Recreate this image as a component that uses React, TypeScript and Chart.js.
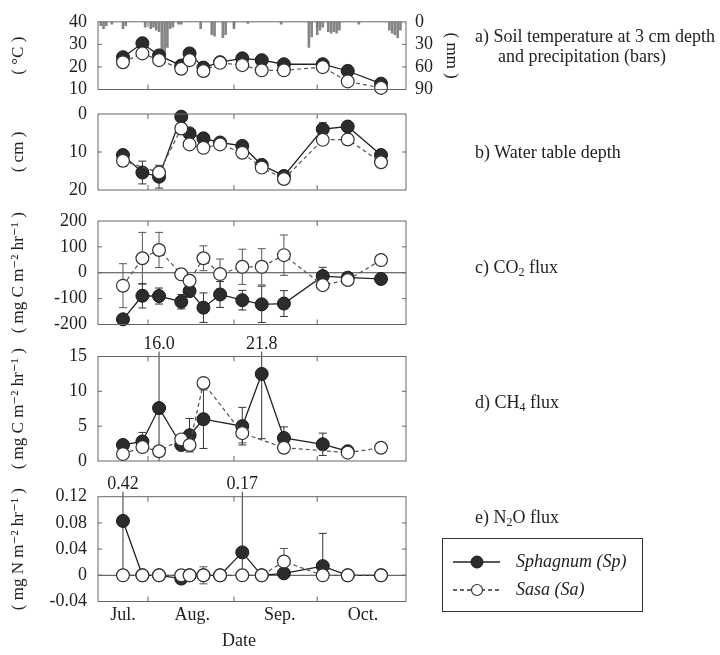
import React, { useEffect, useRef } from 'react';
import { Chart, registerables } from 'chart.js';

Chart.register(...registerables);

const W = 720;
const H = 655;
const PLOT_LEFT = 98;
const PLOT_RIGHT = 406;
const X_MIN = 13;
const X_MAX = 124;
const FONT = "'Liberation Serif', 'DejaVu Serif', serif";
const TICK_SIZE = 18;

Chart.defaults.font.family = FONT;
Chart.defaults.color = '#222';

// days counted from 1 July (1 Aug = 31, 1 Sep = 62, 1 Oct = 92)
const monthStartDays = [31, 62, 92];
const monthLabelDays = [22, 47, 78.5, 108.5];
const monthLabels = ['Jul.', 'Aug.', 'Sep.', 'Oct.'];

const sampleDays = [22, 29, 35, 43, 46, 51, 57, 65, 72, 80, 94, 103, 115];
const ch4Days = [22, 29, 35, 43, 46, 51, 65, 72, 80, 94, 103, 115];

// a) soil temperature (°C) and precipitation (mm)
const precipDays = [14, 15, 16, 18, 22, 23, 30, 32, 33, 34, 35, 36, 37, 38, 39, 40, 42, 43, 50, 54, 55, 58, 59, 62, 67, 79, 89, 90, 92, 93, 94, 96, 97, 98, 99, 100, 107, 118, 119, 120, 121, 122];
const precipMm = [5, 9, 5, 3, 9, 5, 7, 9, 7, 11, 13, 44, 42, 34, 9, 7, 3, 3, 9, 17, 19, 21, 17, 9, 2, 3, 34, 20, 17, 11, 7, 13, 15, 13, 15, 11, 3, 11, 15, 17, 21, 11];
const tempSp = [24.3, 30.5, 25.1, 20.6, 26.0, 19.7, 22.1, 23.8, 23.0, 21.2, 21.2, 18.2, 12.6];
const tempSa = [22.1, 26.0, 23.0, 19.2, 23.0, 18.2, 21.8, 20.8, 18.5, 18.5, 19.9, 13.6, 10.7];
const tempSpErr = [0, 0, 0, 0, 0, 0, 0, 0, 0, 0, 0, 2.5, 0];

// b) water table depth (cm)
const wtdSp = [10.8, 15.4, 16.5, 0.7, 5.1, 6.4, 7.5, 8.4, 13.4, 16.3, 4.0, 3.3, 10.8];
const wtdSa = [12.3, null, 15.4, 3.8, 8.0, 8.9, 8.0, 10.2, 14.1, 17.1, 6.8, 6.7, 12.7];
const wtdSpErr = [0.6, 3, 3, 0, 0, 0, 0, 0, 0, 0, 1.7, 0, 0];
const wtdSaErr = [1.5, 0, 0, 0, 0, 0, 0, 0, 0, 0, 0, 0, 0];

// c) CO2 flux
const co2Sp = [-180, -89, -90, -112, -71, -135, -84, -106, -122, -119, -13, -19, -24];
const co2Sa = [-50, 56, 88, -6, -31, 56, -5, 23, 23, 68, -48, -28, 49];
const co2SpErr = [0, 47, 31, 28, 0, 57, 50, 38, 70, 50, 34, 0, 0];
const co2SaErr = [85, 100, 68, 0, 0, 48, 58, 68, 70, 78, 0, 0, 0];

// d) CH4 flux
const ch4Sp = [2.3, 2.8, 7.6, 2.3, 3.7, 6.0, 5.0, 12.5, 3.3, 2.4, 1.4, null];
const ch4Sa = [1.0, 2.0, 1.4, 3.1, 2.3, 11.2, 4.0, null, 1.9, null, 1.2, 1.9];
const ch4SpErr = [0.6, 1.3, 8.4, 0.5, 2.4, 4.2, 2.7, 9.3, 1.6, 1.6, 0, 0];
const ch4SaErr = [0, 0, 0, 0, 0, 0, 1.4, 0, 0, 0, 0, 0];

// e) N2O flux
const n2oSp = [0.083, 0, 0, -0.005, 0, 0, 0, 0.035, 0, 0.003, 0.014, 0, 0];
const n2oSa = [0, 0, 0, 0, 0, 0, 0, 0, 0, 0.021, 0, 0, 0];
const n2oSpErrUp = [0.337, 0, 0, 0, 0, 0, 0, 0.135, 0, 0, 0.05, 0, 0];
const n2oSpErrDown = [0.083, 0, 0, 0, 0, 0, 0, 0.035, 0, 0, 0.014, 0, 0];
const n2oSaErr = [0, 0, 0, 0, 0, 0.013, 0, 0, 0, 0.02, 0, 0, 0];

const toXY = (days: number[], vals: (number | null)[]) => days.map((d, i) => ({ x: d, y: vals[i] }));

function pairDatasets(days: number[], sp: (number | null)[], sa: (number | null)[], spUp: number[], saUp: number[], spDown?: number[]) {
  return [
    {
      type: 'line', label: 'Sasa (Sa)', data: toXY(days, sa), order: 0,
      errUp: saUp, errDown: saUp, errColor: '#555',
      borderColor: '#555', borderDash: [4, 3], borderWidth: 1.2,
      pointRadius: 6.4, pointBackgroundColor: '#fff', pointBorderColor: '#333', pointBorderWidth: 1.2,
      spanGaps: true, tension: 0, clip: false,
    },
    {
      type: 'line', label: 'Sphagnum (Sp)', data: toXY(days, sp), order: 1,
      errUp: spUp, errDown: spDown || spUp, errColor: '#333',
      borderColor: '#222', borderWidth: 1.3,
      pointRadius: 6.5, pointBackgroundColor: '#2c2c2c', pointBorderColor: '#1a1a1a', pointBorderWidth: 1,
      spanGaps: true, tension: 0, clip: false,
    },
  ];
}

const panelPlugin = {
  id: 'panel',
  beforeDatasetsDraw(chart: any, _args: any, opts: any) {
    const { ctx, chartArea: a, scales } = chart;
    ctx.save();
    if (opts.zero) {
      const y0 = scales.y.getPixelForValue(0);
      ctx.strokeStyle = '#444';
      ctx.lineWidth = 1;
      ctx.beginPath();
      ctx.moveTo(a.left, y0);
      ctx.lineTo(a.right, y0);
      ctx.stroke();
    }
    chart.data.datasets.forEach((ds: any) => {
      const up = ds.errUp;
      if (!up) return;
      const dn = ds.errDown || up;
      const ys = scales[ds.yAxisID || 'y'];
      ctx.strokeStyle = ds.errColor || '#333';
      ctx.lineWidth = 1;
      ctx.setLineDash([]);
      ds.data.forEach((p: any, i: number) => {
        const u = up[i] || 0;
        const d = dn[i] || 0;
        if (p.y == null || (u <= 0 && d <= 0)) return;
        const x = scales.x.getPixelForValue(p.x);
        const hiVal = p.y + u;
        const loVal = p.y - d;
        const over = hiVal > ys.max;
        const pHi = ys.getPixelForValue(Math.min(hiVal, ys.max));
        const pLo = ys.getPixelForValue(Math.max(loVal, ys.min));
        const y1 = over ? a.top - 5 : pHi;
        ctx.beginPath();
        ctx.moveTo(x, y1);
        ctx.lineTo(x, pLo);
        ctx.stroke();
        if (!over && u > 0) {
          ctx.beginPath(); ctx.moveTo(x - 4, pHi); ctx.lineTo(x + 4, pHi); ctx.stroke();
        }
        if (d > 0 && loVal >= ys.min) {
          ctx.beginPath(); ctx.moveTo(x - 4, pLo); ctx.lineTo(x + 4, pLo); ctx.stroke();
        }
        if (over) {
          ctx.fillStyle = '#222';
          ctx.font = `${TICK_SIZE}px ${FONT}`;
          ctx.textAlign = 'center';
          ctx.textBaseline = 'middle';
          ctx.fillText(hiVal.toFixed(opts.digits ?? 1), x, a.top - 12);
        }
      });
    });
    ctx.restore();
  },
  afterDatasetsDraw(chart: any) {
    const { ctx, chartArea: a, scales } = chart;
    ctx.save();
    ctx.strokeStyle = '#666';
    ctx.lineWidth = 1;
    ctx.setLineDash([]);
    ctx.strokeRect(a.left, a.top, a.right - a.left, a.bottom - a.top);
    const inner = (s: any) => s.ticks.map((t: any) => t.value).filter((v: number) => v > s.min + 1e-9 && v < s.max - 1e-9);
    const y = scales.y;
    const y2 = scales.y2;
    ctx.beginPath();
    inner(y).forEach((v: number) => {
      const py = y.getPixelForValue(v);
      ctx.moveTo(a.left, py); ctx.lineTo(a.left + 4, py);
      if (!y2) { ctx.moveTo(a.right, py); ctx.lineTo(a.right - 4, py); }
    });
    if (y2) {
      inner(y2).forEach((v: number) => {
        const py = y2.getPixelForValue(v);
        ctx.moveTo(a.right, py); ctx.lineTo(a.right - 4, py);
      });
    }
    monthStartDays.forEach((d) => {
      const px = scales.x.getPixelForValue(d);
      ctx.moveTo(px, a.bottom); ctx.lineTo(px, a.bottom - 5);
      ctx.moveTo(px, a.top); ctx.lineTo(px, a.top + 5);
    });
    ctx.stroke();
    ctx.restore();
  },
};

function xScale(show: boolean) {
  return {
    type: 'linear', min: X_MIN, max: X_MAX, offset: false, display: show,
    grid: { display: false, drawTicks: false }, border: { display: false },
    afterBuildTicks: (s: any) => { s.ticks = monthLabelDays.map((v) => ({ value: v })); },
    ticks: {
      autoSkip: false, maxRotation: 0, minRotation: 0, padding: 3,
      font: { size: TICK_SIZE, family: FONT }, color: '#222',
      callback: (v: any) => { const i = monthLabelDays.indexOf(Number(v)); return i >= 0 ? monthLabels[i] : ''; },
    },
    title: { display: false },
    afterFit: (s: any) => { if (show) s.height = 53.5; },
  };
}

function yScale(min: number, max: number, step: number, title: string, reverse = false, fmt?: (v: number) => string) {
  return {
    type: 'linear', position: 'left', min, max, reverse,
    grid: { display: false, drawTicks: false }, border: { display: false },
    ticks: {
      stepSize: step, padding: 11, autoSkip: false, font: { size: TICK_SIZE, family: FONT }, color: '#222',
      callback: (v: any) => (fmt ? fmt(Number(v)) : String(Math.round(Number(v)))),
    },
    title: { display: true, text: title, font: { size: 17, family: FONT }, color: '#222', padding: { top: 8, bottom: 0 } },
    afterFit: (s: any) => { s.width = PLOT_LEFT; },
  };
}

function buildConfig(top: number, bottom: number, datasets: any[], scales: any, rightPad: number, pluginOpts: any) {
  return {
    type: 'line',
    data: { datasets },
    options: {
      responsive: false,
      maintainAspectRatio: false,
      animation: false,
      events: [],
      layout: { padding: { left: 0, right: rightPad, top, bottom } },
      plugins: { legend: { display: false }, tooltip: { enabled: false }, panel: pluginOpts },
      scales,
    },
    plugins: [panelPlugin],
  } as any;
}

const panelConfigs = [
  () => buildConfig(12.5, H - 89.5, [
    ...pairDatasets(sampleDays, tempSp, tempSa, tempSpErr, sampleDays.map(() => 0)),
    {
      type: 'bar', label: 'Precipitation', data: toXY(precipDays, precipMm), yAxisID: 'y2', order: 2,
      backgroundColor: '#858585', barThickness: 2,
    },
  ], {
    x: xScale(false),
    y: yScale(10, 40, 10, '( °C )'),
    y2: {
      type: 'linear', position: 'right', min: 0, max: 90, reverse: true,
      grid: { display: false, drawTicks: false }, border: { display: false },
      ticks: { stepSize: 30, padding: 9, autoSkip: false, font: { size: TICK_SIZE, family: FONT }, color: '#222' },
      title: { display: true, text: '( mm )', font: { size: 17, family: FONT }, color: '#222', padding: { top: 4, bottom: 0 } },
      afterFit: (s: any) => { s.width = 60; },
    },
  }, W - PLOT_RIGHT - 60, {}),
  () => buildConfig(114, H - 190, pairDatasets(sampleDays, wtdSp, wtdSa, wtdSpErr, wtdSaErr), {
    x: xScale(false),
    y: yScale(0, 20, 10, '( cm )', true),
  }, W - PLOT_RIGHT, {}),
  () => buildConfig(221, H - 324.5, pairDatasets(sampleDays, co2Sp, co2Sa, co2SpErr, co2SaErr), {
    x: xScale(false),
    y: yScale(-200, 200, 100, '( mg C m⁻² hr⁻¹ )'),
  }, W - PLOT_RIGHT, { zero: true }),
  () => buildConfig(356.5, H - 461, pairDatasets(ch4Days, ch4Sp, ch4Sa, ch4SpErr, ch4SaErr), {
    x: xScale(false),
    y: yScale(0, 15, 5, '( mg C m⁻² hr⁻¹ )'),
  }, W - PLOT_RIGHT, { digits: 1 }),
  () => buildConfig(496.7, 0, pairDatasets(sampleDays, n2oSp, n2oSa, n2oSpErrUp, n2oSaErr, n2oSpErrDown), {
    x: xScale(true),
    y: yScale(-0.04, 0.12, 0.04, '( mg N m⁻² hr⁻¹ )', false, (v) => {
      const r = Math.round(v * 100) / 100;
      return r === 0 ? '0' : String(r);
    }),
  }, W - PLOT_RIGHT, { zero: true, digits: 2 }),
];

function Panel({ make }: { make: () => any }) {
  const ref = useRef<HTMLCanvasElement>(null);
  useEffect(() => {
    const chart = new Chart(ref.current as HTMLCanvasElement, make());
    return () => chart.destroy();
  }, []);
  return <canvas ref={ref} width={W} height={H} style={{ position: 'absolute', left: 0, top: 0, width: W, height: H }} />;
}

const textStyle: React.CSSProperties = {
  position: 'absolute', fontFamily: FONT, fontSize: 18, lineHeight: '20px', color: '#222', whiteSpace: 'nowrap',
};
const subStyle: React.CSSProperties = { fontSize: 12, verticalAlign: '-3px', lineHeight: 0 };

export default function App() {
  return (
    <div style={{ position: 'absolute', left: 0, top: 0, width: W, height: H, overflow: 'hidden', background: '#fff' }}>
      {panelConfigs.map((make, i) => <Panel key={i} make={make} />)}
      <div style={{ ...textStyle, left: 475, top: 26 }}>a) Soil temperature at 3 cm depth</div>
      <div style={{ ...textStyle, left: 498, top: 46 }}>and precipitation (bars)</div>
      <div style={{ ...textStyle, left: 475, top: 142 }}>b) Water table depth</div>
      <div style={{ ...textStyle, left: 475, top: 257 }}>c) CO<span style={subStyle}>2</span> flux</div>
      <div style={{ ...textStyle, left: 475, top: 392 }}>d) CH<span style={subStyle}>4</span> flux</div>
      <div style={{ ...textStyle, left: 475, top: 507 }}>e) N<span style={subStyle}>2</span>O flux</div>
      <div style={{ ...textStyle, left: 222, top: 630 }}>Date</div>
      <div style={{ position: 'absolute', left: 442, top: 538, width: 201, height: 74, border: '1.5px solid #333', boxSizing: 'border-box' }}>
        <svg width={198} height={71} style={{ position: 'absolute', left: 0, top: 0 }}>
          <line x1={10} y1={23} x2={57} y2={23} stroke="#222" strokeWidth={1.5} />
          <circle cx={34} cy={23} r={6} fill="#2c2c2c" stroke="#1a1a1a" />
          <line x1={10} y1={51} x2={57} y2={51} stroke="#333" strokeWidth={1.3} strokeDasharray="4 3" />
          <circle cx={34} cy={51} r={5.5} fill="#fff" stroke="#333" strokeWidth={1.2} />
        </svg>
        <div style={{ ...textStyle, left: 73, top: 12, fontStyle: 'italic' }}>Sphagnum (Sp)</div>
        <div style={{ ...textStyle, left: 73, top: 40, fontStyle: 'italic' }}>Sasa (Sa)</div>
      </div>
    </div>
  );
}
